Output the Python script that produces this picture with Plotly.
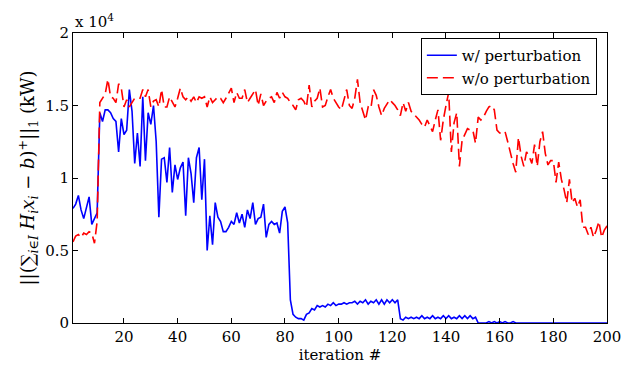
import plotly.graph_objects as go

iterations = list(range(1, 201))

# values in units of 10^4 kW
with_perturbation = [
    0.79, 0.82, 0.88, 0.78, 0.72, 0.80, 0.87, 0.68, 0.72, 0.76,
    1.45, 1.39, 1.47, 1.47, 1.45, 1.41, 1.39, 1.18, 1.41, 1.30,
    1.33, 1.61, 1.46, 1.10, 1.31, 1.08, 1.56, 1.12, 1.45, 1.37,
    1.50, 1.25, 0.73, 1.13, 1.14, 0.97, 1.21, 0.90, 1.09, 0.99,
    1.07, 1.11, 0.74, 1.14, 1.03, 0.83, 1.14, 1.21, 0.85, 1.13,
    0.50, 0.74, 0.54, 0.83, 0.73, 0.70, 0.63, 0.63, 0.66, 0.70,
    0.68, 0.76, 0.69, 0.75, 0.66, 0.78, 0.72, 0.83, 0.68, 0.72,
    0.73, 0.82, 0.59, 0.68, 0.70, 0.68, 0.69, 0.62, 0.77, 0.80,
    0.69, 0.16, 0.06, 0.04, 0.03, 0.03, 0.02, 0.06, 0.07, 0.10,
    0.09, 0.12, 0.11, 0.12, 0.11, 0.13, 0.12, 0.14, 0.12, 0.13,
    0.13, 0.14, 0.13, 0.14, 0.14, 0.15, 0.13, 0.15, 0.14, 0.16,
    0.13, 0.15, 0.14, 0.16, 0.13, 0.16, 0.13, 0.16, 0.14, 0.16,
    0.14, 0.16, 0.03, 0.02, 0.04, 0.03, 0.04, 0.03, 0.04, 0.03,
    0.05, 0.03, 0.04, 0.03, 0.05, 0.03, 0.04, 0.03, 0.05, 0.03,
    0.05, 0.03, 0.04, 0.03, 0.05, 0.03, 0.05, 0.03, 0.05, 0.03,
    0.04, 0.00, 0.00, 0.00, 0.00, 0.01, 0.00, 0.01, 0.00, 0.01,
    0.00, 0.01, 0.00, 0.00, 0.01, 0.00, 0.00, 0.00, 0.00, 0.00,
    0.00, 0.00, 0.00, 0.00, 0.00, 0.00, 0.00, 0.00, 0.00, 0.00,
    0.00, 0.00, 0.00, 0.00, 0.00, 0.00, 0.00, 0.00, 0.00, 0.00,
    0.00, 0.00, 0.00, 0.00, 0.00, 0.00, 0.00, 0.00, 0.00, 0.00,
]

without_perturbation = [
    0.56, 0.60, 0.61, 0.59, 0.62, 0.61, 0.63, 0.62, 0.55, 0.70,
    1.52, 1.55, 1.58, 1.68, 1.56, 1.55, 1.52, 1.65, 1.62, 1.49,
    1.54, 1.49, 1.52, 1.55, 1.55, 1.55, 1.61, 1.56, 1.61, 1.49,
    1.53, 1.54, 1.49, 1.61, 1.49, 1.49, 1.56, 1.52, 1.49, 1.55,
    1.62, 1.56, 1.54, 1.56, 1.53, 1.56, 1.52, 1.56, 1.55, 1.56,
    1.49, 1.56, 1.52, 1.54, 1.56, 1.55, 1.52, 1.55, 1.59, 1.62,
    1.52, 1.59, 1.55, 1.55, 1.61, 1.52, 1.55, 1.58, 1.61, 1.50,
    1.58, 1.50, 1.53, 1.55, 1.56, 1.52, 1.59, 1.55, 1.59, 1.56,
    1.55, 1.52, 1.50, 1.47, 1.54, 1.55, 1.53, 1.49, 1.64, 1.49,
    1.53, 1.55, 1.62, 1.49, 1.50, 1.56, 1.61, 1.55, 1.52, 1.49,
    1.47, 1.55, 1.61, 1.50, 1.48, 1.55, 1.68, 1.52, 1.46, 1.40,
    1.49, 1.48, 1.61, 1.57, 1.49, 1.43, 1.48, 1.51, 1.54, 1.52,
    1.50, 1.47, 1.43, 1.52, 1.46, 1.52, 1.46, 1.44, 1.42, 1.40,
    1.37, 1.35, 1.40, 1.36, 1.32, 1.40, 1.47, 1.26, 1.40, 1.50,
    1.59, 1.18, 1.38, 1.45, 1.08, 1.26, 1.30, 1.34, 1.33, 1.33,
    1.24, 1.42, 1.40, 1.42, 1.46, 1.49, 1.50, 1.47, 1.33, 1.31,
    1.31, 1.32, 1.25, 1.17, 1.10, 1.04, 1.28, 1.15, 1.08, 1.18,
    1.15, 1.10, 1.23, 1.08, 1.25, 1.32, 1.17, 1.09, 1.12, 1.12,
    0.97, 1.11, 0.99, 0.92, 0.83, 0.99, 0.83, 0.86, 0.80, 0.85,
    0.66, 0.66, 0.61, 0.66, 0.59, 0.64, 0.70, 0.59, 0.64, 0.67,
]

x_ticks = [20, 40, 60, 80, 100, 120, 140, 160, 180, 200]
y_ticks = [0, 0.5, 1, 1.5, 2]
y_tick_labels = ["0", "0.5", "1", "1.5", "2"]

FONT = "DejaVu Serif"

fig = go.Figure()
fig.add_trace(go.Scatter(
    x=iterations, y=with_perturbation, mode="lines",
    name="w/ perturbation",
    line=dict(color="#0000ff", width=1.6),
))
fig.add_trace(go.Scatter(
    x=iterations, y=without_perturbation, mode="lines",
    name="w/o perturbation",
    line=dict(color="#ff0000", width=1.6, dash="11px,5px"),
))

axis_common = dict(
    showgrid=False, zeroline=False, showline=True, linecolor="black",
    linewidth=1, mirror="ticks", ticks="inside", ticklen=5,
    tickcolor="black", tickfont=dict(family=FONT, size=15, color="black"),
)

fig.update_layout(
    width=629, height=369,
    margin=dict(l=65, r=30, t=25, b=54),
    paper_bgcolor="white", plot_bgcolor="white",
    font=dict(family=FONT, size=15, color="black"),
    xaxis=dict(range=[1, 200], tickvals=x_ticks,
               title=dict(text="iteration #", standoff=0,
                          font=dict(family=FONT, size=15)),
               **axis_common),
    yaxis=dict(range=[0, 2], tickvals=y_ticks, ticktext=y_tick_labels,
               title=dict(text="||(∑<sub><i>i</i>∈<i>I</i></sub> <i>H<sub>i</sub>x<sub>i</sub></i> − <i>b</i>)<sup>+</sup>||<sub>1</sub> (kW)",
                          standoff=5, font=dict(family=FONT, size=18)),
               **axis_common),
    legend=dict(x=0.981, y=0.983, xanchor="right", yanchor="top",
                bgcolor="white", bordercolor="black", borderwidth=1,
                font=dict(family=FONT, size=15, color="black"),
                tracegroupgap=0),
    showlegend=True,
)

fig.add_annotation(
    x=0, y=1, xref="paper", yref="paper", xanchor="left", yanchor="bottom",
    text="x 10<sup>4</sup>", showarrow=False, yshift=0,
    font=dict(family=FONT, size=15, color="black"),
)

fig.write_html("out.html")
